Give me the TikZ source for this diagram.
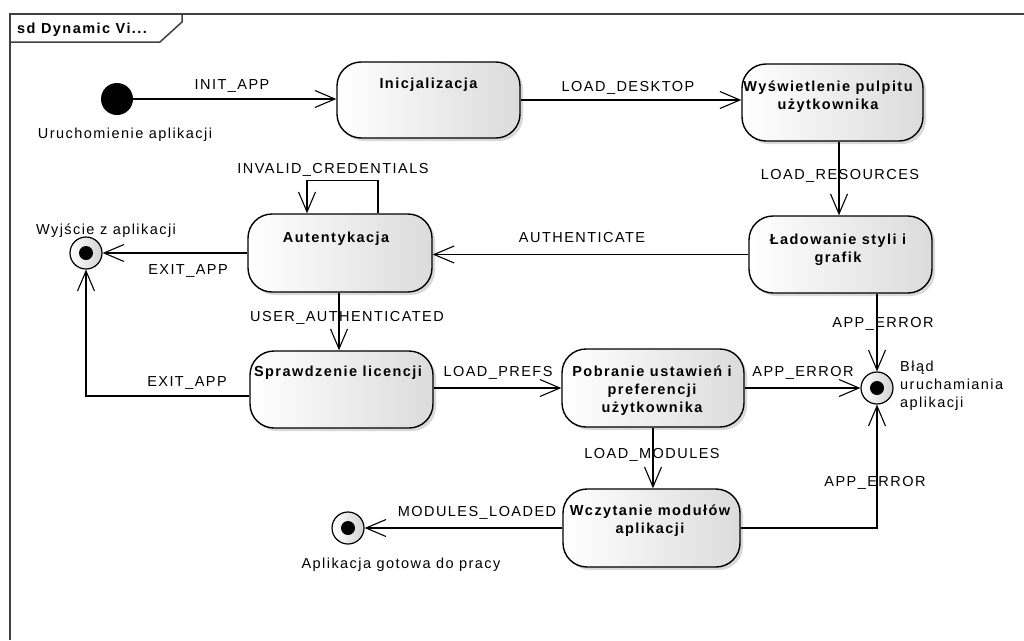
\documentclass[tikz,border=0pt]{standalone}
\usepackage{fontspec}
\setmainfont{Liberation Sans}[LetterSpace=10]
\usetikzlibrary{arrows.meta,shadows}

\newcommand\stlines[1]{\begin{tabular}[t]{@{}c@{}}#1\end{tabular}}
\newcommand\diagfont{\fontsize{14.5pt}{18pt}\selectfont}

\tikzset{
  frameline/.style={draw=black!75, line width=1.5pt},
  state/.style={draw=black, line width=1.4pt, rounded corners=24pt,
    shading=axis, left color=white, middle color=white, right color=black!14,
    drop shadow={shadow xshift=3pt, shadow yshift=-3pt, opacity=0.3},
    inner sep=0pt},
  sttext/.style={font=\diagfont\bfseries, anchor=base, inner sep=0pt},
  initial/.style={circle, fill=black, minimum size=32pt, inner sep=0pt},
  final/.style={circle, draw=black, line width=1.2pt, minimum size=32pt, inner sep=0pt,
    shading=axis, left color=white, middle color=white, right color=black!18,
    path picture={\fill[black] (path picture bounding box.center) circle (7pt);}},
  trans/.style={draw=black, line width=1.1pt,
    -{Straight Barb[length=20pt, width=17pt, line width=1.1pt]}},
  lbl/.style={anchor=base, inner sep=0pt},
}

\begin{document}
\begin{tikzpicture}[x=1pt, y=-1pt, font=\diagfont]
\useasboundingbox (0,0) rectangle (1024,640);

% diagram frame with its name tab
\draw[frameline] (10,640) -- (10,14) -- (1024,14);
\draw[frameline] (182,14) -- (182,22) -- (160,42) -- (10,42);
\node[anchor=base west, inner sep=0pt, font=\diagfont\bfseries] (title) at (17,33) {sd Dynamic Vi...};

% pseudo states
\node[initial] (start) at (117,99) {};
\node[final] (exitF) at (86,253) {};
\node[final] (errF) at (877,388) {};
\node[final] (doneF) at (348,528) {};

\node[lbl] (startL) at (125,138) {Uruchomienie aplikacji};
\node[lbl] (exitL) at (106,234) {Wyjście z aplikacji};
\node[anchor=base west, inner sep=0pt] (errL) at (900,371.5)
  {\begin{tabular}[t]{@{}l@{}}Błąd\\uruchamiania\\aplikacji\end{tabular}};
\node[lbl] (doneL) at (401,568) {Aplikacja gotowa do pracy};

% states
\node[state, minimum width=183pt, minimum height=76pt] (ini) at (428.5,100) {};
\node[state, minimum width=181pt, minimum height=77pt] (wys) at (832.5,102.5) {};
\node[state, minimum width=183pt, minimum height=77pt] (lad) at (840.5,254.5) {};
\node[state, minimum width=184pt, minimum height=78pt] (aut) at (340,253) {};
\node[state, minimum width=183pt, minimum height=77pt] (spr) at (341.5,389.5) {};
\node[state, minimum width=182pt, minimum height=78pt] (pob) at (653,388) {};
\node[state, minimum width=177pt, minimum height=78pt] (wcz) at (651.5,528) {};

\node[sttext] (iniT) at (428.5,88.7) {Inicjalizacja};
\node[sttext] (wysT) at (828,91.7) {\stlines{Wyświetlenie pulpitu\\użytkownika}};
\node[sttext] (ladT) at (838,244) {\stlines{Ładowanie styli i\\grafik}};
\node[sttext] (autT) at (336,242.3) {Autentykacja};
\node[sttext] (sprT) at (338,376.7) {Sprawdzenie licencji};
\node[sttext] (pobT) at (652,376.7) {\stlines{Pobranie ustawień i\\preferencji\\użytkownika}};
\node[sttext] (wczT) at (650,515) {\stlines{Wczytanie modułów\\aplikacji}};

% transitions
\draw[trans] (start.east) -- (start.east -| ini.west);
\draw[trans] (ini.east) -- (ini.east -| wys.west);
\draw[trans] ([xshift=6.5pt]wys.south) -- ([xshift=6.5pt]wys.south |- lad.north);
\draw[trans] (lad.west) -- (lad.west -| aut.east);
\draw[trans] ([xshift=38pt]aut.north) -- ++(0,-33) -| ([xshift=-33pt]aut.north);
\draw[trans] (aut.west) -- (aut.west -| exitF.east);
\draw[trans] ([xshift=-1pt]aut.south) -- ([xshift=-1pt]aut.south |- spr.north);
\draw[trans] ([yshift=-6.5pt]spr.west) -| (exitF.south);
\draw[trans] (pob.west -| spr.east) -- (pob.west);
\draw[trans] (pob.east) -- (errF.west);
\draw[trans] (lad.south -| errF.north) -- (errF.north);
\draw[trans] (pob.south) -- (pob.south |- wcz.north);
\draw[trans] (wcz.east) -| (errF.south);
\draw[trans] (wcz.west) -- (doneF.east);

% transition labels
\node[lbl] (t1) at (232,89) {INIT\_APP};
\node[lbl] (t2) at (628,91.5) {LOAD\_DESKTOP};
\node[lbl] (t3) at (840,179) {LOAD\_RESOURCES};
\node[lbl] (t4) at (582,242.5) {AUTHENTICATE};
\node[lbl] (t5) at (333,173) {INVALID\_CREDENTIALS};
\node[lbl] (t6) at (188,274) {EXIT\_APP};
\node[lbl] (t7) at (347,321.5) {USER\_AUTHENTICATED};
\node[lbl] (t8) at (187,386) {EXIT\_APP};
\node[lbl] (t9) at (498,376.5) {LOAD\_PREFS};
\node[lbl] (t10) at (803,376.5) {APP\_ERROR};
\node[lbl] (t11) at (883,327) {APP\_ERROR};
\node[lbl] (t12) at (652,458) {LOAD\_MODULES};
\node[lbl] (t13) at (875,486.5) {APP\_ERROR};
\node[lbl] (t14) at (477,516) {MODULES\_LOADED};
\end{tikzpicture}
\end{document}
